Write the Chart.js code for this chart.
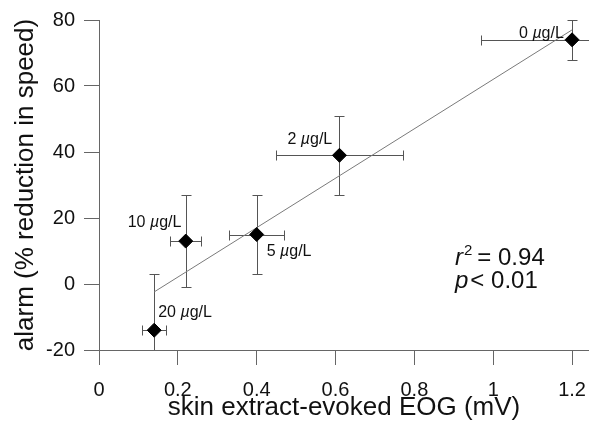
<!DOCTYPE html>
<html>
<head>
<meta charset="utf-8">
<script src="https://cdn.jsdelivr.net/npm/chart.js@4.4.1/dist/chart.umd.min.js"></script>
<style>
  body { margin: 0; background: #fff; }
  #wrap { width: 589px; height: 425px; }
</style>
</head>
<body>
<div id="wrap"><canvas id="chart" width="589" height="425"></canvas></div>
<script>
const doses = ['0', '2', '5', '10', '20'];
const eog = [1.2, 0.61, 0.40, 0.22, 0.14];
const eogErr = [0.23, 0.16, 0.07, 0.04, 0.03];
const alarm = [74, 39, 15, 13, -14];
const alarmErr = [6, 12, 12, 14, 17];
const fitX = [0.14, 1.2];
const fitY = [-2.4, 77];
const xTicks = [0, 0.2, 0.4, 0.6, 0.8, 1, 1.2];
const yTicks = [-20, 0, 20, 40, 60, 80];

// where each dose label sits relative to its point (px)
const labelOffsets = [[-53, -2], [-52, -11], [10, 21], [-58, -14], [4, -13]];

const FONT = '"Liberation Sans", Arial, Helvetica, sans-serif';
const axisGray = '#666';

function drawRuns(ctx, x, y, runs) {
  runs.forEach(r => {
    ctx.font = r.font;
    ctx.fillText(r.text, x, y + (r.dy || 0));
    x += ctx.measureText(r.text).width + (r.gap || 0);
  });
}

const errorBars = {
  id: 'errorBars',
  beforeDatasetsDraw(chart) {
    const {ctx, chartArea, scales: {x, y}} = chart;
    ctx.save();
    ctx.beginPath();
    ctx.rect(chartArea.left, chartArea.top - 2, chart.width - chartArea.left, chartArea.bottom - chartArea.top + 2);
    ctx.clip();
    ctx.strokeStyle = '#555';
    ctx.lineWidth = 1;
    const cap = 5;
    eog.forEach((v, i) => {
      const px = Math.round(x.getPixelForValue(v)) + 0.5;
      const py = Math.round(y.getPixelForValue(alarm[i])) + 0.5;
      const xl = Math.round(x.getPixelForValue(v - eogErr[i])) + 0.5;
      const xr = Math.round(x.getPixelForValue(v + eogErr[i])) + 0.5;
      const yt = Math.round(y.getPixelForValue(alarm[i] + alarmErr[i])) + 0.5;
      const yb = Math.round(y.getPixelForValue(alarm[i] - alarmErr[i])) + 0.5;
      ctx.beginPath();
      ctx.moveTo(xl, py); ctx.lineTo(xr, py);
      ctx.moveTo(xl, py - cap); ctx.lineTo(xl, py + cap);
      ctx.moveTo(xr, py - cap); ctx.lineTo(xr, py + cap);
      ctx.moveTo(px, yt); ctx.lineTo(px, yb);
      ctx.moveTo(px - cap, yt); ctx.lineTo(px + cap, yt);
      ctx.moveTo(px - cap, yb); ctx.lineTo(px + cap, yb);
      ctx.stroke();
    });
    ctx.restore();
  }
};

const textLabels = {
  id: 'textLabels',
  afterDatasetsDraw(chart) {
    const {ctx, chartArea, scales: {x, y}} = chart;
    ctx.save();
    ctx.fillStyle = '#111';
    ctx.textBaseline = 'alphabetic';
    ctx.textAlign = 'left';
    doses.forEach((d, i) => {
      const px = x.getPixelForValue(eog[i]) + labelOffsets[i][0];
      const py = y.getPixelForValue(alarm[i]) + labelOffsets[i][1];
      drawRuns(ctx, px, py, [
        {text: d + ' ', font: '16px ' + FONT},
        {text: 'µ', font: 'italic 16px ' + FONT},
        {text: 'g/L', font: '16px ' + FONT}
      ]);
    });
    const sx = chartArea.left + 356;
    drawRuns(ctx, sx, chartArea.top + 245, [
      {text: 'r', font: 'italic 24px ' + FONT, gap: 1},
      {text: '2', font: '15px ' + FONT, dy: -10, gap: 5},
      {text: '= 0.94', font: '24px ' + FONT}
    ]);
    drawRuns(ctx, sx, chartArea.top + 268, [
      {text: 'p', font: 'italic 24px ' + FONT, gap: 2},
      {text: '< 0.01', font: '24px ' + FONT}
    ]);
    ctx.restore();
  }
};

new Chart(document.getElementById('chart'), {
  type: 'scatter',
  data: {
    datasets: [
      {
        label: 'alarm',
        data: eog.map((v, i) => ({x: v, y: alarm[i]})),
        pointStyle: 'rectRot',
        pointRadius: 7,
        pointBackgroundColor: '#000',
        pointBorderColor: '#000',
        pointBorderWidth: 1
      },
      {
        label: 'fit',
        type: 'line',
        data: fitX.map((v, i) => ({x: v, y: fitY[i]})),
        borderColor: '#7a7a7a',
        borderWidth: 1,
        pointRadius: 0,
        fill: false
      }
    ]
  },
  options: {
    responsive: false,
    animation: false,
    layout: {autoPadding: false, padding: {top: 20, left: 0, right: 0, bottom: 0}},
    plugins: {legend: {display: false}, tooltip: {enabled: false}},
    scales: {
      x: {
        type: 'linear',
        min: 0,
        max: 1.243,
        afterBuildTicks: s => { s.ticks = xTicks.map(v => ({value: v})); },
        afterFit: s => { s.height = 75; s.paddingLeft = 0; s.paddingRight = 0; },
        ticks: {
          callback: v => String(v),
          color: '#111',
          font: {family: FONT, size: 20},
          padding: 13,
          maxRotation: 0
        },
        grid: {drawOnChartArea: false, drawTicks: true, tickLength: 15, color: axisGray},
        border: {display: true, color: axisGray},
        title: {
          display: true,
          text: 'skin extract-evoked EOG (mV)',
          color: '#111',
          font: {family: FONT, size: 26},
          padding: {top: 0, bottom: 2}
        }
      },
      y: {
        min: -20,
        max: 80,
        afterBuildTicks: s => { s.ticks = yTicks.map(v => ({value: v})); },
        afterFit: s => { s.width = 99; s.paddingTop = 0; s.paddingBottom = 0; },
        ticks: {
          callback: v => String(v),
          color: '#111',
          font: {family: FONT, size: 20},
          padding: 9
        },
        grid: {drawOnChartArea: false, drawTicks: true, tickLength: 15, color: axisGray},
        border: {display: true, color: axisGray},
        title: {
          display: true,
          text: 'alarm (% reduction in speed)',
          color: '#111',
          font: {family: FONT, size: 26},
          padding: {top: 10, bottom: 0}
        }
      }
    }
  },
  plugins: [errorBars, textLabels]
});
</script>
</body>
</html>
